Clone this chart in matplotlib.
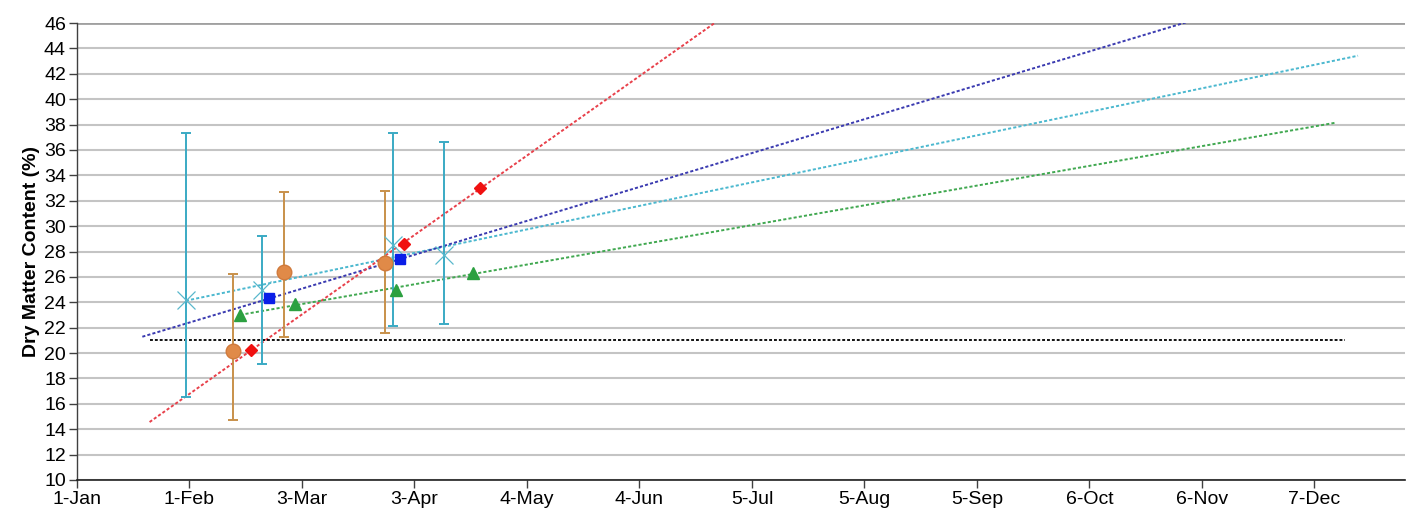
import numpy as np
import matplotlib
matplotlib.use("Agg")
import matplotlib.pyplot as plt

plt.rcParams['font.family'] = ['Liberation Sans', 'DejaVu Sans']

# ---- data (days counted from 1-Jan, leap year) ----
tick_labels = ["1-Jan", "1-Feb", "3-Mar", "3-Apr", "4-May", "4-Jun", "5-Jul",
               "5-Aug", "5-Sep", "6-Oct", "6-Nov", "7-Dec"]
tick_step_days = 31

cyan_days = [30, 51, 87, 101]
cyan_vals = [24.2, 25.0, 28.5, 27.7]
cyan_err_lo = [7.7, 5.9, 6.4, 5.4]
cyan_err_hi = [13.1, 4.2, 8.8, 8.9]
cyan_trend = (30, 353)

orange_days = [43, 57, 85]
orange_vals = [20.2, 26.4, 27.1]
orange_err_lo = [5.5, 5.15, 5.5]
orange_err_hi = [6.06, 6.3, 5.7]

blue_days = [53, 89]
blue_vals = [24.3, 27.4]
blue_trend = (18, 360)

red_days = [48, 90, 111]
red_vals = [20.25, 28.6, 33.0]
red_trend = (20, 360)

green_days = [45, 60, 88, 109]
green_vals = [22.96, 23.9, 25.0, 26.3]
green_trend = (45, 347)

threshold_val = 21.0
threshold_days = (20, 349.5)

# ---- figure ----
fig = plt.figure(figsize=(14.07, 5.20), dpi=100)
ax = fig.add_axes([77/1407, (520-480)/520, (1405-77)/1407, (480-23)/520])

ax.set_xlim(0, (1405-77)/3.629)
ax.set_ylim(10, 46)

# grid
ax.set_yticks(np.arange(10, 47, 2))
ax.yaxis.grid(True, color='#c4c4c4', linewidth=1.5)
ax.set_axisbelow(True)
ax.set_xticks([i*tick_step_days for i in range(len(tick_labels))])
ax.set_xticklabels(tick_labels)

for s in ['top', 'right']:
    ax.spines[s].set_visible(False)
ax.spines['left'].set_color('#404040')
ax.spines['bottom'].set_color('#202020')
ax.spines['left'].set_linewidth(1.0)
ax.spines['bottom'].set_linewidth(1.2)
ax.tick_params(axis='both', direction='out', length=6, width=1, color='#404040',
               labelsize=14, pad=2)
ax.axhline(46, color='#a0a0a0', linewidth=2.0, zorder=1)

ax.set_ylabel("Dry Matter Content (%)", fontsize=14, fontweight='bold', labelpad=3)

dot = (0, (1.6, 1.1))

def trend(days, vals, rng, color):
    k, b = np.polyfit(days, vals, 1)
    xs = np.array(rng, dtype=float)
    ax.plot(xs, k*xs + b, color=color, linestyle=dot, linewidth=1.4, zorder=2)

trend(cyan_days, cyan_vals, cyan_trend, '#4bb8cf')
trend(blue_days, blue_vals, blue_trend, '#3a3ab0')
trend(red_days, red_vals, red_trend, '#e8404a')
trend(green_days, green_vals, green_trend, '#40a850')

ax.plot(threshold_days, [threshold_val, threshold_val], color='black',
        linestyle=dot, linewidth=1.3, zorder=2)

# error bars
ax.errorbar(cyan_days, cyan_vals, yerr=[cyan_err_lo, cyan_err_hi], fmt='none',
            ecolor='#3aaac4', elinewidth=1.4, capsize=3.5, capthick=1.4, zorder=3)
ax.errorbar(orange_days, orange_vals, yerr=[orange_err_lo, orange_err_hi], fmt='none',
            ecolor='#c8904a', elinewidth=1.4, capsize=3.5, capthick=1.4, zorder=3)

# markers
ax.plot(cyan_days, cyan_vals, linestyle='none', marker='x', markersize=13,
        markeredgewidth=0.9, color='#5ab8cc', zorder=4)
ax.plot(orange_days, orange_vals, linestyle='none', marker='o', markersize=10.5,
        color='#e08a48', markeredgecolor='#d07a3c', zorder=4)
ax.plot(blue_days, blue_vals, linestyle='none', marker='s', markersize=7.5,
        color='#0a1ee8', zorder=4)
ax.plot(red_days, red_vals, linestyle='none', marker='D', markersize=6.5,
        color='#f01010', zorder=4)
ax.plot(green_days, green_vals, linestyle='none', marker='^', markersize=8,
        color='#2ca040', zorder=4)

fig.savefig("out.png", dpi=100)
